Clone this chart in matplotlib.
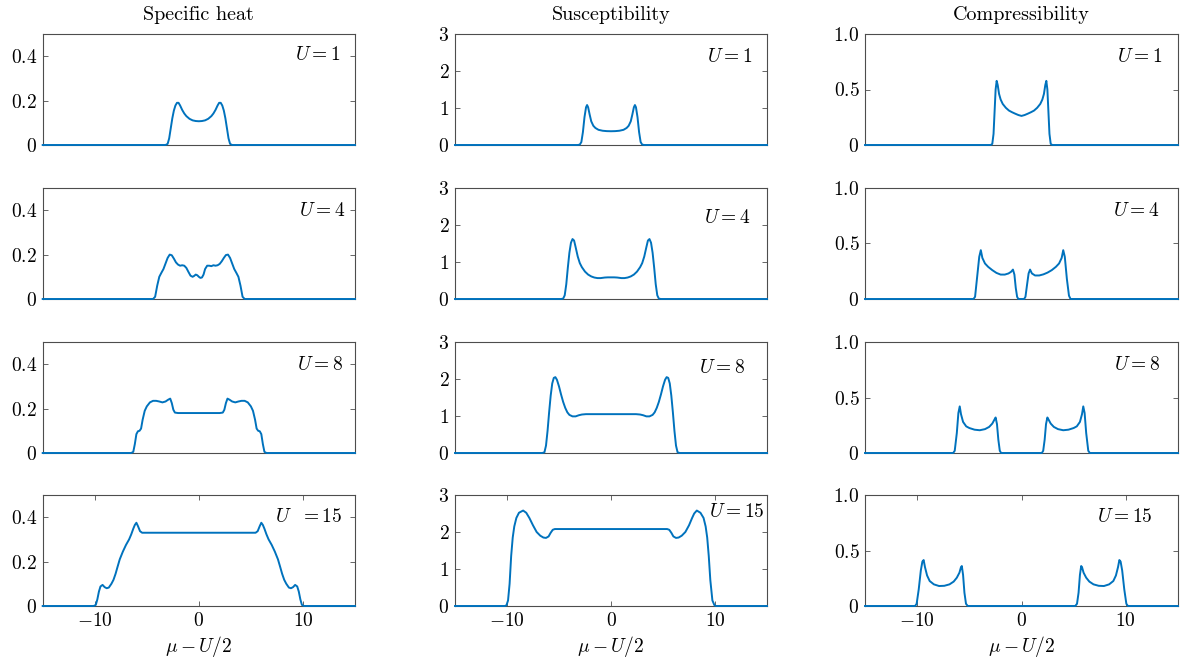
import matplotlib
matplotlib.use("Agg")
import matplotlib.pyplot as plt
import numpy as np

# Font: Computer Modern, close to the LaTeX look of the reference.
plt.rcParams["mathtext.fontset"] = "cm"
plt.rcParams["font.family"] = "cmr10"
plt.rcParams["font.size"] = 14
plt.rcParams["axes.unicode_minus"] = False

# Column titles and U values per row.
COLUMN_TITLES = ["Specific heat", "Susceptibility", "Compressibility"]
U_VALUES = [1, 4, 8, 15]

# Y ranges and ticks per column.
Y_LIMITS = [0.5, 3.0, 1.0]
Y_TICKS = [[0, 0.2, 0.4], [0, 1, 2, 3], [0, 0.5, 1.0]]
Y_TICK_LABELS = [["0", "0.2", "0.4"], ["0", "1", "2", "3"], ["0", "0.5", "1.0"]]
X_TICKS = [-10, 0, 10]
X_TICK_LABELS = ["-10", "0", "10"]

# Curves: (mu - U/2, value).
SH_U1 = [(-15, 0), (-3.2, 0), (-3.0, 0.005), (-2.85, 0.03), (-2.7, 0.075), (-2.55, 0.12),
         (-2.4, 0.155), (-2.25, 0.178), (-2.1, 0.19), (-1.95, 0.19), (-1.8, 0.178),
         (-1.6, 0.158), (-1.4, 0.142), (-1.2, 0.13), (-0.9, 0.118), (-0.6, 0.111),
         (-0.3, 0.108), (0, 0.107), (0.3, 0.108), (0.6, 0.111), (0.9, 0.118), (1.2, 0.13),
         (1.4, 0.142), (1.6, 0.158), (1.8, 0.178), (1.95, 0.19), (2.1, 0.19), (2.25, 0.178),
         (2.4, 0.155), (2.55, 0.12), (2.7, 0.075), (2.85, 0.03), (3.0, 0.005), (3.2, 0),
         (15, 0)]
SH_U4 = [(-15, 0), (-4.4, 0), (-4.2, 0.01), (-4.0, 0.06), (-3.8, 0.1), (-3.6, 0.118),
         (-3.4, 0.135), (-3.2, 0.16), (-3.0, 0.185), (-2.8, 0.2), (-2.6, 0.197),
         (-2.4, 0.182), (-2.2, 0.165), (-2.0, 0.155), (-1.8, 0.15), (-1.6, 0.152),
         (-1.4, 0.15), (-1.2, 0.14), (-1.0, 0.122), (-0.8, 0.105), (-0.6, 0.1),
         (-0.45, 0.104), (-0.3, 0.11), (-0.15, 0.107), (0, 0.1), (0.15, 0.095),
         (0.3, 0.097), (0.45, 0.11), (0.6, 0.135), (0.8, 0.15), (1.0, 0.15), (1.2, 0.148),
         (1.4, 0.152), (1.6, 0.15), (1.8, 0.152), (2.0, 0.158), (2.2, 0.17), (2.4, 0.185),
         (2.6, 0.198), (2.8, 0.2), (3.0, 0.185), (3.2, 0.16), (3.4, 0.135), (3.6, 0.118),
         (3.8, 0.1), (4.0, 0.06), (4.2, 0.01), (4.4, 0), (15, 0)]
SH_U8 = [(-15, 0), (-6.5, 0), (-6.3, 0.005), (-6.15, 0.04), (-6.0, 0.085), (-5.85, 0.098),
         (-5.7, 0.1), (-5.55, 0.11), (-5.4, 0.15), (-5.2, 0.19), (-5.0, 0.21), (-4.7, 0.228),
         (-4.4, 0.235), (-4.1, 0.235), (-3.8, 0.232), (-3.5, 0.228), (-3.2, 0.232),
         (-2.95, 0.24), (-2.75, 0.245), (-2.6, 0.225), (-2.45, 0.195), (-2.3, 0.182),
         (-2.0, 0.18), (0, 0.18), (2.0, 0.18), (2.3, 0.182), (2.45, 0.195), (2.6, 0.225),
         (2.75, 0.245), (2.95, 0.24), (3.2, 0.232), (3.5, 0.228), (3.8, 0.232), (4.1, 0.235),
         (4.4, 0.235), (4.7, 0.228), (5.0, 0.21), (5.2, 0.19), (5.4, 0.15), (5.55, 0.11),
         (5.7, 0.1), (5.85, 0.098), (6.0, 0.085), (6.15, 0.04), (6.3, 0.005), (6.5, 0),
         (15, 0)]
SH_U15 = [(-15, 0), (-10.1, 0), (-9.9, 0.005), (-9.75, 0.03), (-9.6, 0.065), (-9.45, 0.088),
          (-9.25, 0.095), (-9.05, 0.085), (-8.85, 0.08), (-8.65, 0.083), (-8.4, 0.1),
          (-8.2, 0.118), (-8.0, 0.145), (-7.8, 0.178), (-7.6, 0.21), (-7.3, 0.245),
          (-7.0, 0.275), (-6.7, 0.3), (-6.5, 0.322), (-6.3, 0.348), (-6.15, 0.365),
          (-6.0, 0.375), (-5.85, 0.36), (-5.65, 0.337), (-5.45, 0.33), (0, 0.33),
          (5.45, 0.33), (5.65, 0.337), (5.85, 0.36), (6.0, 0.375), (6.15, 0.365),
          (6.3, 0.348), (6.5, 0.322), (6.7, 0.3), (7.0, 0.275), (7.3, 0.245), (7.6, 0.21),
          (7.8, 0.178), (8.0, 0.145), (8.2, 0.118), (8.4, 0.1), (8.65, 0.083), (8.85, 0.08),
          (9.05, 0.085), (9.25, 0.095), (9.45, 0.088), (9.6, 0.065), (9.75, 0.03),
          (9.9, 0.005), (10.1, 0), (15, 0)]

SU_U1 = [(-15, 0), (-3.2, 0), (-3.0, 0.01), (-2.85, 0.08), (-2.7, 0.35), (-2.55, 0.75),
         (-2.4, 1.02), (-2.3, 1.08), (-2.2, 1.02), (-2.05, 0.82), (-1.9, 0.64), (-1.7, 0.52),
         (-1.5, 0.46), (-1.2, 0.41), (-0.8, 0.385), (-0.4, 0.375), (0, 0.372), (0.4, 0.375),
         (0.8, 0.385), (1.2, 0.41), (1.5, 0.46), (1.7, 0.52), (1.9, 0.64), (2.05, 0.82),
         (2.2, 1.02), (2.3, 1.08), (2.4, 1.02), (2.55, 0.75), (2.7, 0.35), (2.85, 0.08),
         (3.0, 0.01), (3.2, 0), (15, 0)]
SU_U4 = [(-15, 0), (-4.8, 0), (-4.6, 0.01), (-4.45, 0.1), (-4.3, 0.4), (-4.15, 0.85),
         (-4.0, 1.25), (-3.85, 1.52), (-3.7, 1.62), (-3.55, 1.58), (-3.4, 1.4), (-3.2, 1.15),
         (-3.0, 0.97), (-2.8, 0.86), (-2.5, 0.74), (-2.2, 0.66), (-1.9, 0.61), (-1.6, 0.58),
         (-1.3, 0.565), (-1.0, 0.565), (-0.6, 0.58), (-0.3, 0.585), (0, 0.585), (0.3, 0.585),
         (0.6, 0.58), (1.0, 0.565), (1.3, 0.565), (1.6, 0.58), (1.9, 0.61), (2.2, 0.66),
         (2.5, 0.74), (2.8, 0.86), (3.0, 0.97), (3.2, 1.15), (3.4, 1.4), (3.55, 1.58),
         (3.7, 1.62), (3.85, 1.52), (4.0, 1.25), (4.15, 0.85), (4.3, 0.4), (4.45, 0.1),
         (4.6, 0.01), (4.8, 0), (15, 0)]
SU_U8 = [(-15, 0), (-6.6, 0), (-6.4, 0.02), (-6.25, 0.2), (-6.1, 0.6), (-5.95, 1.1),
         (-5.8, 1.55), (-5.65, 1.88), (-5.5, 2.03), (-5.35, 2.05), (-5.2, 1.98), (-5.0, 1.8),
         (-4.8, 1.58), (-4.6, 1.38), (-4.4, 1.22), (-4.2, 1.1), (-4.0, 1.03), (-3.7, 0.99),
         (-3.4, 0.99), (-3.1, 1.02), (-2.8, 1.04), (-2.4, 1.05), (0, 1.05), (2.4, 1.05),
         (2.8, 1.04), (3.1, 1.02), (3.4, 0.99), (3.7, 0.99), (4.0, 1.03), (4.2, 1.1),
         (4.4, 1.22), (4.6, 1.38), (4.8, 1.58), (5.0, 1.8), (5.2, 1.98), (5.35, 2.05),
         (5.5, 2.03), (5.65, 1.88), (5.8, 1.55), (5.95, 1.1), (6.1, 0.6), (6.25, 0.2),
         (6.4, 0.02), (6.6, 0), (15, 0)]
SU_U15 = [(-15, 0), (-10.2, 0), (-10.05, 0.02), (-9.9, 0.15), (-9.75, 0.6), (-9.6, 1.35),
          (-9.45, 1.85), (-9.3, 2.15), (-9.1, 2.38), (-8.85, 2.52), (-8.45, 2.58),
          (-8.15, 2.52), (-7.85, 2.38), (-7.5, 2.18), (-7.15, 2.0), (-6.8, 1.9), (-6.5, 1.85),
          (-6.25, 1.84), (-6.0, 1.88), (-5.8, 1.98), (-5.6, 2.06), (-5.4, 2.08), (0, 2.08),
          (5.4, 2.08), (5.6, 2.06), (5.8, 1.98), (6.0, 1.88), (6.25, 1.84), (6.5, 1.85),
          (6.8, 1.9), (7.15, 2.0), (7.5, 2.18), (7.8, 2.38), (8.0, 2.5), (8.25, 2.58),
          (8.6, 2.52), (8.9, 2.38), (9.1, 2.15), (9.25, 1.85), (9.4, 1.35), (9.55, 0.7),
          (9.75, 0.15), (9.95, 0.02), (10.1, 0), (15, 0)]

CO_U1 = [(-15, 0), (-2.95, 0), (-2.8, 0.01), (-2.68, 0.1), (-2.58, 0.3), (-2.48, 0.5),
         (-2.38, 0.578), (-2.28, 0.54), (-2.15, 0.46), (-2.0, 0.41), (-1.8, 0.37),
         (-1.5, 0.335), (-1.2, 0.31), (-0.9, 0.295), (-0.6, 0.282), (-0.3, 0.27), (0, 0.262),
         (0.3, 0.27), (0.6, 0.282), (0.9, 0.295), (1.2, 0.31), (1.5, 0.335), (1.8, 0.37),
         (2.0, 0.41), (2.15, 0.46), (2.28, 0.54), (2.38, 0.578), (2.48, 0.5), (2.58, 0.3),
         (2.68, 0.1), (2.8, 0.01), (2.95, 0), (15, 0)]
CO_U4 = [(-15, 0), (-4.6, 0), (-4.45, 0.02), (-4.25, 0.2), (-4.05, 0.38), (-3.9, 0.44),
         (-3.75, 0.37), (-3.5, 0.32), (-3.2, 0.29), (-2.8, 0.26), (-2.4, 0.235), (-2.0, 0.22),
         (-1.6, 0.22), (-1.25, 0.23), (-1.0, 0.245), (-0.82, 0.265), (-0.68, 0.22),
         (-0.55, 0.1), (-0.42, 0.02), (-0.3, 0), (0.25, 0), (0.38, 0.02), (0.52, 0.12),
         (0.68, 0.23), (0.82, 0.265), (1.0, 0.23), (1.3, 0.212), (1.7, 0.212), (2.1, 0.222),
         (2.5, 0.238), (2.9, 0.26), (3.3, 0.29), (3.6, 0.32), (3.85, 0.37), (4.0, 0.44),
         (4.15, 0.38), (4.35, 0.18), (4.55, 0.03), (4.7, 0), (15, 0)]
CO_U8 = [(-15, 0), (-6.55, 0), (-6.4, 0.02), (-6.2, 0.18), (-6.05, 0.36), (-5.92, 0.42),
         (-5.8, 0.35), (-5.6, 0.28), (-5.3, 0.24), (-5.0, 0.225), (-4.5, 0.21), (-4.0, 0.205),
         (-3.5, 0.215), (-3.1, 0.235), (-2.8, 0.265), (-2.6, 0.3), (-2.48, 0.32),
         (-2.35, 0.26), (-2.22, 0.12), (-2.08, 0.02), (-1.95, 0), (1.95, 0), (2.08, 0.02),
         (2.22, 0.12), (2.35, 0.26), (2.48, 0.32), (2.6, 0.3), (2.8, 0.265), (3.1, 0.235),
         (3.5, 0.215), (4.0, 0.205), (4.5, 0.21), (5.0, 0.225), (5.3, 0.24), (5.6, 0.28),
         (5.8, 0.35), (5.92, 0.42), (6.05, 0.36), (6.2, 0.18), (6.4, 0.02), (6.55, 0),
         (15, 0)]
CO_U15 = [(-15, 0), (-10.2, 0), (-10.05, 0.02), (-9.85, 0.15), (-9.65, 0.32), (-9.5, 0.4),
          (-9.38, 0.414), (-9.25, 0.35), (-9.05, 0.275), (-8.8, 0.225), (-8.4, 0.195),
          (-7.9, 0.18), (-7.4, 0.182), (-6.9, 0.195), (-6.5, 0.22), (-6.2, 0.255),
          (-5.95, 0.3), (-5.8, 0.35), (-5.72, 0.36), (-5.6, 0.28), (-5.47, 0.12),
          (-5.32, 0.02), (-5.15, 0), (5.15, 0), (5.32, 0.02), (5.47, 0.12), (5.6, 0.28),
          (5.72, 0.36), (5.8, 0.35), (5.95, 0.3), (6.2, 0.255), (6.5, 0.22), (6.9, 0.195),
          (7.4, 0.182), (7.9, 0.18), (8.4, 0.195), (8.8, 0.225), (9.05, 0.275), (9.25, 0.35),
          (9.38, 0.414), (9.5, 0.4), (9.65, 0.32), (9.85, 0.15), (10.05, 0.02), (10.2, 0),
          (15, 0)]

CURVES = [
    [SH_U1, SU_U1, CO_U1],
    [SH_U4, SU_U4, CO_U4],
    [SH_U8, SU_U8, CO_U8],
    [SH_U15, SU_U15, CO_U15],
]

# Layout in pixels of the 1181x666 target.
FIG_W, FIG_H = 1181, 666
COL_LEFT = [42.7, 455, 865]
COL_WIDTH = [312.3, 312, 313]
ROW_TOP = [34, 188, 342, 495]
ROW_HEIGHT = 111

# Label positions (axes fraction, right-aligned) per panel.
LABEL_X = [[0.952, 0.952, 0.949], [0.968, 0.946, 0.942],
           [0.961, 0.929, 0.942], [0.958, 0.994, 0.92]]
LABEL_Y = [[0.81, 0.79, 0.79], [0.79, 0.73, 0.79],
           [0.79, 0.77, 0.79], [0.80, 0.85, 0.80]]

LINE_COLOR = "#0072BD"
AXIS_COLOR = "#4d4d4d"


def u_label(row, col):
    """Tekst oznake U za jedan panel."""
    u = U_VALUES[row]
    if row == 3 and col == 0:
        return r"$U\ \ =15$"
    return rf"$U={u}$"


def style_axes(ax, row, col):
    """Stil osa kao u MATLAB-u: tanki okvir, ticks iznutra."""
    for spine in ax.spines.values():
        spine.set_color(AXIS_COLOR)
        spine.set_linewidth(0.8)

    ax.set_xlim(-15, 15)
    ax.set_ylim(0, Y_LIMITS[col])
    ax.set_yticks(Y_TICKS[col])
    ax.set_yticklabels([f"${t}$" for t in Y_TICK_LABELS[col]])

    if row == 3:
        ax.set_xticks(X_TICKS)
        ax.set_xticklabels([f"${t}$" for t in X_TICK_LABELS])
        ax.set_xlabel(r"$\mu - U/2$", labelpad=3)
    else:
        ax.set_xticks([])

    ax.tick_params(direction="in", top=True, right=True, length=3.5, width=0.6,
                   color=AXIS_COLOR, labelsize=14, pad=4)


def main():
    fig = plt.figure(figsize=(FIG_W / 100, FIG_H / 100), dpi=100)

    for row in range(4):
        for col in range(3):
            left = COL_LEFT[col] / FIG_W
            bottom = 1 - (ROW_TOP[row] + ROW_HEIGHT) / FIG_H
            ax = fig.add_axes([left, bottom, COL_WIDTH[col] / FIG_W, ROW_HEIGHT / FIG_H])

            data = np.array(CURVES[row][col])
            ax.plot(data[:, 0], data[:, 1], color=LINE_COLOR, linewidth=1.4, clip_on=False,
                    zorder=3)

            style_axes(ax, row, col)
            ax.text(LABEL_X[row][col], LABEL_Y[row][col], u_label(row, col),
                    transform=ax.transAxes, ha="right", va="center", fontsize=14)

            if row == 0:
                ax.set_title(COLUMN_TITLES[col], fontsize=14.5, pad=10)

    fig.savefig("out.png", dpi=100)
    plt.close(fig)


if __name__ == "__main__":
    main()
